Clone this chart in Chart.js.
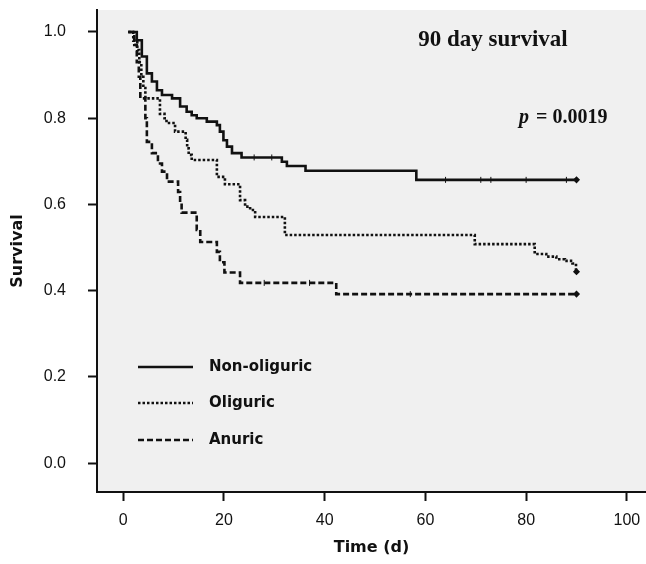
<!DOCTYPE html>
<html>
<head>
<meta charset="utf-8">
<title>90 day survival</title>
<script src="https://cdn.jsdelivr.net/npm/chart.js@4.4.1/dist/chart.umd.min.js"></script>
<style>
  html, body { margin: 0; padding: 0; background: #fff; overflow: hidden; }
  #wrap { position: relative; width: 646px; height: 564px; }
  canvas { display: block; }
</style>
</head>
<body>
<div id="wrap"><canvas id="km_chart" width="646" height="564"></canvas></div>
<script>
"use strict";

// Kaplan-Meier steps: day of each drop and survival after it.
var non_oliguric_t = [1, 2.7, 3.7, 4.7, 5.7, 6.7, 7.7, 9.7, 11.3, 12.6, 13.6, 14.6, 16.6, 18.6, 19.2, 19.9, 20.6, 21.6, 23.5, 31.5, 32.5, 36.2, 58.2, 90];
var non_oliguric_s = [1.0, 0.981, 0.943, 0.904, 0.885, 0.865, 0.854, 0.846, 0.827, 0.815, 0.807, 0.800, 0.792, 0.784, 0.769, 0.749, 0.734, 0.719, 0.709, 0.699, 0.689, 0.678, 0.657, 0.657];

var oliguric_t = [1, 2.0, 2.8, 3.2, 3.6, 4.0, 4.4, 7.3, 8.2, 8.6, 10.3, 12.4, 12.7, 13.0, 13.6, 18.6, 20.2, 23.2, 24.2, 25.2, 26.2, 32.1, 69.8, 81.7, 84, 86, 87.7, 89.2, 89.9, 90];
var oliguric_s = [1.0, 0.98, 0.958, 0.93, 0.896, 0.87, 0.846, 0.81, 0.80, 0.789, 0.769, 0.75, 0.73, 0.715, 0.703, 0.664, 0.647, 0.61, 0.595, 0.587, 0.571, 0.529, 0.508, 0.485, 0.479, 0.473, 0.469, 0.463, 0.444, 0.444];

var anuric_t = [1, 2.2, 2.7, 3.1, 3.4, 4.4, 4.7, 5.7, 6.9, 7.7, 8.7, 10.9, 11.3, 11.6, 14.6, 15.3, 18.6, 19.2, 20.1, 23.2, 42.3, 90];
var anuric_s = [1.0, 0.97, 0.93, 0.896, 0.846, 0.80, 0.745, 0.719, 0.695, 0.676, 0.653, 0.629, 0.605, 0.581, 0.541, 0.513, 0.49, 0.466, 0.442, 0.418, 0.392, 0.392];

// censored cases (small vertical marks on the curves)
var non_oliguric_censor = [26, 29.5, 64, 71, 73, 80, 88];
var anuric_censor = [28, 37, 57];
var follow_up_end = 90;

var x_ticks = [0, 20, 40, 60, 80, 100];
var y_ticks = [0.0, 0.2, 0.4, 0.6, 0.8, 1.0];

var group_labels = ['Non-oliguric', 'Oliguric', 'Anuric'];

(function () {
  var to_points, survival_at, censor_points, step_dataset, mark_dataset, fixed_ticks, no_side_padding, plot_background, legend_and_notes, ink;
  ink = '#111';

  to_points = function (ts, ss) {
    return ts.map(function (t, i) {
      return { x: t, y: ss[i] };
    });
  };

  survival_at = function (ts, ss, t) {
    var i, s;
    s = ss[0];
    for (i = 0; i < ts.length; i++) {
      if (ts[i] <= t) {
        s = ss[i];
      }
    }
    return s;
  };

  censor_points = function (times, ts, ss) {
    return times.map(function (t) {
      return { x: t, y: survival_at(ts, ss, t) };
    });
  };

  step_dataset = function (label, ts, ss, dash) {
    return {
      label: label,
      data: to_points(ts, ss),
      stepped: 'before',
      borderColor: ink,
      borderWidth: 2.6,
      borderDash: dash,
      borderCapStyle: 'butt',
      pointRadius: 0,
      fill: false
    };
  };

  mark_dataset = function (points, style, radius) {
    return {
      data: points,
      showLine: false,
      pointStyle: style,
      rotation: style === 'line' ? 90 : 0,
      pointRadius: radius,
      pointBorderWidth: style === 'line' ? 1 : 1.5,
      pointBorderColor: ink,
      pointBackgroundColor: ink
    };
  };

  fixed_ticks = function (values) {
    return function (axis) {
      axis.ticks = values.map(function (v) {
        return { value: v };
      });
    };
  };

  // keep the plot box where the original has it, whatever the label sizes
  no_side_padding = function (size_key, size) {
    return function (axis) {
      axis[size_key] = size;
      axis.paddingTop = 0;
      axis.paddingBottom = 0;
      axis.paddingLeft = 0;
      axis.paddingRight = 0;
    };
  };

  plot_background = {
    id: 'plot_background',
    beforeDraw: function (chart) {
      var a = chart.chartArea, ctx = chart.ctx;
      ctx.save();
      ctx.fillStyle = '#f0f0f0';
      ctx.fillRect(a.left, a.top, a.right - a.left, a.bottom - a.top);
      ctx.restore();
    }
  };

  // legend sits inside the plot, bottom-left, like the original figure
  legend_and_notes = {
    id: 'legend_and_notes',
    afterDatasetsDraw: function (chart) {
      var ctx = chart.ctx, rows = [367, 403, 440];
      ctx.save();
      chart.data.datasets.slice(0, 3).forEach(function (ds, i) {
        ctx.strokeStyle = ink;
        ctx.lineWidth = 2.6;
        ctx.setLineDash(ds.borderDash || []);
        ctx.beginPath();
        ctx.moveTo(138, rows[i]);
        ctx.lineTo(193, rows[i]);
        ctx.stroke();
        ctx.setLineDash([]);
        ctx.fillStyle = ink;
        ctx.font = 'bold 15px "DejaVu Sans"';
        ctx.textBaseline = 'middle';
        ctx.textAlign = 'left';
        ctx.fillText(ds.label, 209, rows[i]);
      });
      ctx.font = 'bold 23px "Liberation Serif"';
      ctx.textAlign = 'center';
      ctx.fillText('90 day survival', 493, 40);
      ctx.textAlign = 'left';
      ctx.font = 'italic bold 20px "Liberation Serif"';
      ctx.fillText('p', 519, 118);
      ctx.font = 'bold 20px "Liberation Serif"';
      ctx.fillText(' = 0.0019', 519 + ctx.measureText('p').width + 1, 118);
      ctx.restore();
    }
  };

  new Chart(document.getElementById('km_chart').getContext('2d'), {
    type: 'line',
    data: {
      datasets: [
        step_dataset(group_labels[0], non_oliguric_t, non_oliguric_s, []),
        step_dataset(group_labels[1], oliguric_t, oliguric_s, [2.5, 2]),
        step_dataset(group_labels[2], anuric_t, anuric_s, [6, 3]),
        mark_dataset(censor_points(non_oliguric_censor, non_oliguric_t, non_oliguric_s), 'line', 3),
        mark_dataset(censor_points(anuric_censor, anuric_t, anuric_s), 'line', 3),
        mark_dataset([
          { x: follow_up_end, y: survival_at(non_oliguric_t, non_oliguric_s, follow_up_end) },
          { x: follow_up_end, y: survival_at(oliguric_t, oliguric_s, follow_up_end) },
          { x: follow_up_end, y: survival_at(anuric_t, anuric_s, follow_up_end) }
        ], 'rectRot', 2.5)
      ]
    },
    options: {
      responsive: false,
      devicePixelRatio: 1,
      animation: false,
      layout: { autoPadding: false, padding: { top: 10, right: 0, left: 0, bottom: 0 } },
      plugins: {
        legend: { display: false },
        tooltip: { enabled: false }
      },
      scales: {
        x: {
          type: 'linear',
          min: -5.2,
          max: 103.8,
          afterBuildTicks: fixed_ticks(x_ticks),
          afterFit: no_side_padding('height', 72),
          ticks: {
            color: ink,
            font: { family: '"Liberation Sans"', size: 16 },
            padding: 10,
            maxRotation: 0,
            autoSkip: false
          },
          grid: { drawOnChartArea: false, drawTicks: true, tickLength: 9, tickWidth: 2, tickColor: ink },
          border: { display: true, color: ink, width: 2 },
          title: {
            display: true,
            text: 'Time (d)',
            color: ink,
            font: { family: '"DejaVu Sans"', size: 16, weight: 'bold' },
            padding: { top: 0, bottom: 7 }
          }
        },
        y: {
          type: 'linear',
          min: -0.067,
          max: 1.051,
          afterBuildTicks: fixed_ticks(y_ticks),
          afterFit: no_side_padding('width', 97),
          ticks: {
            color: ink,
            font: { family: '"Liberation Sans"', size: 16 },
            padding: 22,
            callback: function (v) { return v.toFixed(1); }
          },
          grid: { drawOnChartArea: false, drawTicks: true, tickLength: 9, tickWidth: 2, tickColor: ink },
          border: { display: true, color: ink, width: 2 },
          title: {
            display: true,
            text: 'Survival',
            color: ink,
            font: { family: '"DejaVu Sans"', size: 16, weight: 'bold' },
            padding: { top: 8, bottom: 0 }
          }
        }
      }
    },
    plugins: [plot_background, legend_and_notes]
  });
}).call(void 0);
</script>
</body>
</html>
